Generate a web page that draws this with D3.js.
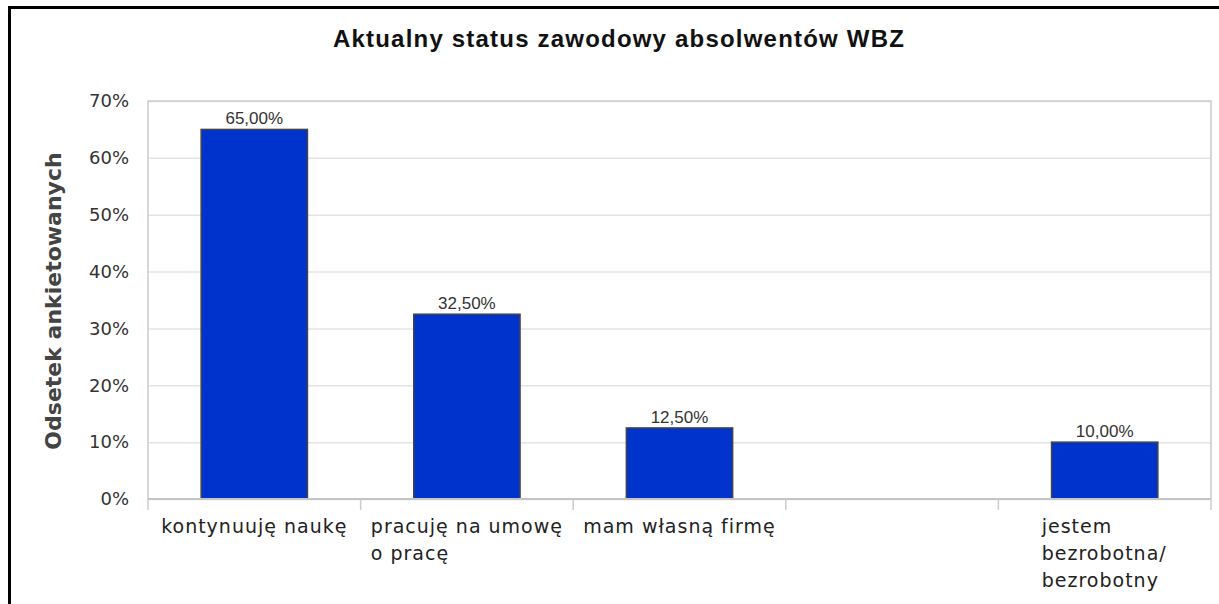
<!DOCTYPE html>
<html>
<head>
<meta charset="utf-8">
<script src="https://cdn.jsdelivr.net/npm/d3@7"></script>
<style>
  body { margin: 0; background: #fff; }
  .tick-label { font-family: "DejaVu Sans", sans-serif; font-size: 18px; fill: #333; }
  .cat-label { font-family: "DejaVu Sans", sans-serif; font-size: 19px; letter-spacing: 1px; fill: #222; }
  .value-label { font-family: "Liberation Sans", Arial, sans-serif; font-size: 17px; fill: #333; }
</style>
</head>
<body>
<div id="chart"></div>
<script>
// Chart data
const categories = [
  "kontynuuję naukę",
  "pracuję na umowę\no pracę",
  "mam własną firmę",
  "",
  "jestem\nbezrobotna/\nbezrobotny"
];
const values = [0.65, 0.325, 0.125, null, 0.10];
const yTicks = [0, 0.1, 0.2, 0.3, 0.4, 0.5, 0.6, 0.7];

const title = "Aktualny status zawodowy absolwentów WBZ";
const yTitle = "Odsetek ankietowanych";

const width = 1219;
const height = 604;

// Plot area
const plotLeft = 148, plotRight = 1211, plotTop = 101, plotBottom = 499;

const svg = d3.select("#chart")
  .append("svg")
  .attr("width", width)
  .attr("height", height);

// Outer black frame (open to the right and bottom)
svg.append("rect")
  .attr("x", 9.5)
  .attr("y", 7.5)
  .attr("width", 1400)
  .attr("height", 800)
  .attr("fill", "none")
  .attr("stroke", "#000")
  .attr("stroke-width", 3);

// Polish number format with comma decimals
const pl = d3.formatLocale({ decimal: ",", thousands: " ", grouping: [3], currency: ["", " zł"] });
const fmtValue = d => pl.format(".2f")(d * 100) + "%";

const x = d3.scaleBand()
  .domain(d3.range(categories.length))
  .range([plotLeft, plotRight])
  .paddingInner(0.5)
  .paddingOuter(0.25);

const y = d3.scaleLinear()
  .domain([0, 0.7])
  .range([plotBottom, plotTop]);

// Gridlines
svg.append("g")
  .attr("transform", `translate(${plotLeft},0)`)
  .call(d3.axisLeft(y).tickValues(yTicks).tickSize(-(plotRight - plotLeft)).tickFormat(""))
  .call(g => g.select(".domain").remove())
  .call(g => g.selectAll("line").attr("stroke", "#e4e4e4").attr("stroke-width", 1.5));

// Plot frame: left, top, right
svg.append("path")
  .attr("d", `M${plotLeft},${plotBottom + 11} V${plotTop} H${plotRight} V${plotBottom + 11}`)
  .attr("fill", "none")
  .attr("stroke", "#cccccc")
  .attr("stroke-width", 1.5);

// Y tick labels
svg.append("g")
  .attr("transform", `translate(${plotLeft},0)`)
  .call(d3.axisLeft(y).tickValues(yTicks).tickSize(0).tickPadding(19).tickFormat(d3.format(".0%")))
  .call(g => g.select(".domain").remove())
  .call(g => g.selectAll("text").attr("class", "tick-label").attr("fill", null)
    .attr("font-family", null).attr("font-size", null));

// Bars
const step = x.step();
const barData = values.map((v, i) => ({ v, i })).filter(d => d.v !== null);

svg.selectAll(".bar")
  .data(barData)
  .join("rect")
  .attr("class", "bar")
  .attr("x", d => x(d.i))
  .attr("y", d => y(d.v))
  .attr("width", x.bandwidth())
  .attr("height", d => y(0) - y(d.v))
  .attr("fill", "#0033cc")
  .attr("stroke", "#454545")
  .attr("stroke-width", 1.5);

// Value labels
svg.selectAll(".value-label")
  .data(barData)
  .join("text")
  .attr("class", "value-label")
  .attr("x", d => x(d.i) + x.bandwidth() / 2)
  .attr("y", d => y(d.v) - 5)
  .attr("text-anchor", "middle")
  .text(d => fmtValue(d.v));

// X axis line
svg.append("line")
  .attr("x1", plotLeft)
  .attr("x2", plotRight)
  .attr("y1", plotBottom)
  .attr("y2", plotBottom)
  .attr("stroke", "#c4c4c4")
  .attr("stroke-width", 2);

// Category boundary ticks
svg.selectAll(".cat-tick")
  .data(d3.range(1, categories.length))
  .join("line")
  .attr("class", "cat-tick")
  .attr("x1", i => x(i) - step * x.paddingInner() / 2)
  .attr("x2", i => x(i) - step * x.paddingInner() / 2)
  .attr("y1", plotBottom)
  .attr("y2", plotBottom + 11)
  .attr("stroke", "#cccccc")
  .attr("stroke-width", 1.5);

// Category labels: left-aligned block, centred in its band
const catG = svg.selectAll(".cat")
  .data(categories.map((c, i) => ({ lines: c ? c.split("\n") : [], i })))
  .join("g")
  .attr("class", "cat");

catG.each(function(d) {
  const g = d3.select(this);
  const t = g.append("text").attr("class", "cat-label");
  d.lines.forEach((line, k) => {
    t.append("tspan").attr("x", 0).attr("y", 533 + k * 27).text(line);
  });
  const w = d.lines.length ? t.node().getBBox().width : 0;
  g.attr("transform", `translate(${x(d.i) + x.bandwidth() / 2 - w / 2},0)`);
});

// Title
svg.append("text")
  .attr("x", 619)
  .attr("y", 47)
  .attr("text-anchor", "middle")
  .attr("font-family", "Liberation Sans, Arial, sans-serif")
  .attr("font-weight", "bold")
  .attr("font-size", 24)
  .attr("letter-spacing", "1.2px")
  .attr("fill", "#111")
  .text(title);

// Y axis title
svg.append("text")
  .attr("transform", `translate(61,301) rotate(-90)`)
  .attr("text-anchor", "middle")
  .attr("font-family", "DejaVu Sans, sans-serif")
  .attr("font-weight", "bold")
  .attr("font-size", 22)
  .attr("fill", "#444")
  .text(yTitle);
</script>
</body>
</html>
